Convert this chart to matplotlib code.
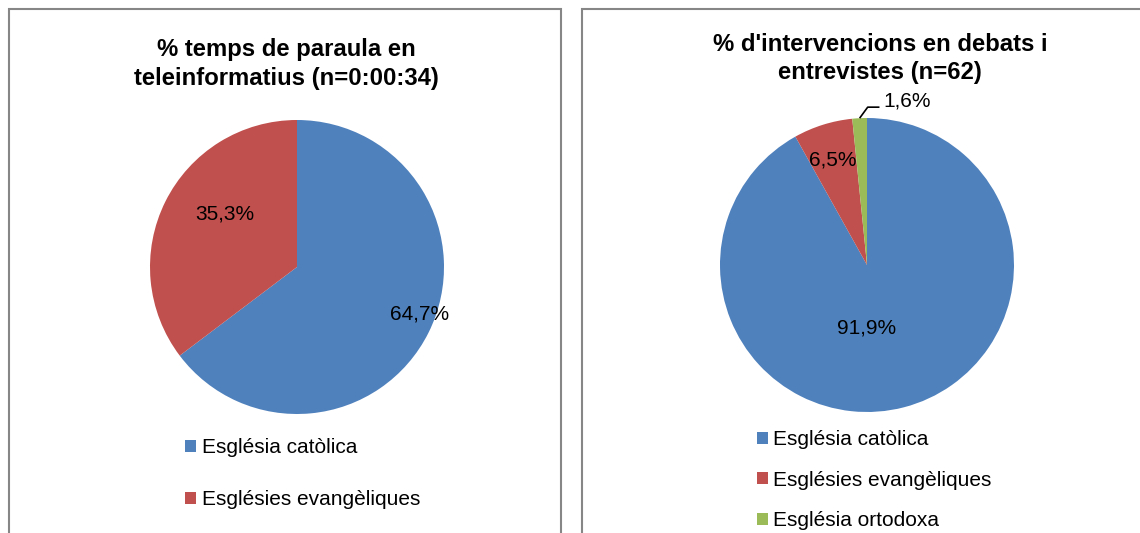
import matplotlib
matplotlib.use("Agg")
import matplotlib.pyplot as plt
from matplotlib.patches import Rectangle
import numpy as np

plt.rcParams['font.family'] = ['Liberation Sans', 'DejaVu Sans']

# ---- data ----
left_title = "% temps de paraula en\nteleinformatius (n=0:00:34)"
left_labels = ["Església catòlica", "Esglésies evangèliques"]
left_values = [64.7, 35.3]

right_title = "% d'intervencions en debats i\nentrevistes (n=62)"
right_labels = ["Església catòlica", "Esglésies evangèliques", "Església ortodoxa"]
right_values = [91.9, 6.5, 1.6]

colors = ["#4F81BD", "#C0504D", "#9BBB59"]

W, H = 1140, 533
fig = plt.figure(figsize=(W / 100, H / 100), dpi=100)
fig.patch.set_facecolor("white")

def px_rect(x0, y0, x1, y1):
    return [x0 / W, 1 - y1 / H, (x1 - x0) / W, (y1 - y0) / H]

# panel borders
for (x0, x1) in [(9, 561), (582, 1160)]:
    fig.patches.append(Rectangle((x0 / W, -0.1), (x1 - x0) / W, 1 - 9.5 / H + 0.1,
                                 transform=fig.transFigure, fill=False,
                                 edgecolor="#868686", linewidth=1.5))

def fmt(v):
    return f"{v:.1f}".replace(".", ",") + "%"

def draw_pie(cx, cy, r, values, label_pos):
    ax = fig.add_axes(px_rect(cx - r, cy - r, cx + r, cy + r))
    wedges, _ = ax.pie(values, colors=colors[:len(values)], startangle=90,
                       counterclock=False, radius=1.0,
                       wedgeprops=dict(linewidth=0))
    ax.set_xlim(-1, 1)
    ax.set_ylim(-1, 1)
    ax.set_aspect("equal")
    ax.axis("off")
    for w, v, pos in zip(wedges, values, label_pos):
        if pos is None:
            continue
        a, d = pos
        mid = (w.theta1 + w.theta2) / 2 + a
        x, y = d * np.cos(np.radians(mid)), d * np.sin(np.radians(mid))
        ax.text(x, y, fmt(v), ha="center", va="center", fontsize=15, color="black")
    return ax, wedges

# left pie
axL, wL = draw_pie(297, 267, 147, left_values, [(5.5, 0.89), (-9.5, 0.61)])
fig.text(286 / W, 1 - 64 / H, left_title, ha="center", va="center",
         fontsize=17.2, fontweight="bold", linespacing=1.28)

# right pie
axR, wR = draw_pie(867, 265, 147, right_values, [(-14.6, 0.43), (0.5, 0.75), None])
fig.text(880 / W, 1 - 58.5 / H, right_title, ha="center", va="center",
         fontsize=17.2, fontweight="bold", linespacing=1.28)

# leader label for the smallest slice
g = wR[2]
gmid = np.radians((g.theta1 + g.theta2) / 2)
p0 = np.array([np.cos(gmid), np.sin(gmid)])
p1 = p0 + np.array([0.055, 0.075])
p2 = p1 + np.array([0.08, 0.0])
axR.plot([p0[0], p1[0], p2[0]], [p0[1], p1[1], p2[1]], color="black", lw=1.2,
         clip_on=False, solid_capstyle="butt")
axR.text(p2[0] + 0.03, p2[1] + 0.045, fmt(right_values[2]), ha="left", va="center",
         fontsize=15, color="black", clip_on=False)

# legends
fig.legend(wL, left_labels, loc="upper left",
           bbox_to_anchor=(185 / W, 1 - 438 / H), frameon=False,
           fontsize=15, handlelength=0.52, handleheight=0.52,
           handletextpad=0.3, labelspacing=1.6, borderpad=0, borderaxespad=0)
fig.legend(wR, right_labels, loc="upper left",
           bbox_to_anchor=(757 / W, 1 - 430 / H), frameon=False,
           fontsize=15, handlelength=0.52, handleheight=0.52,
           handletextpad=0.25, labelspacing=1.04, borderpad=0, borderaxespad=0)

fig.savefig("out.png", dpi=100)
